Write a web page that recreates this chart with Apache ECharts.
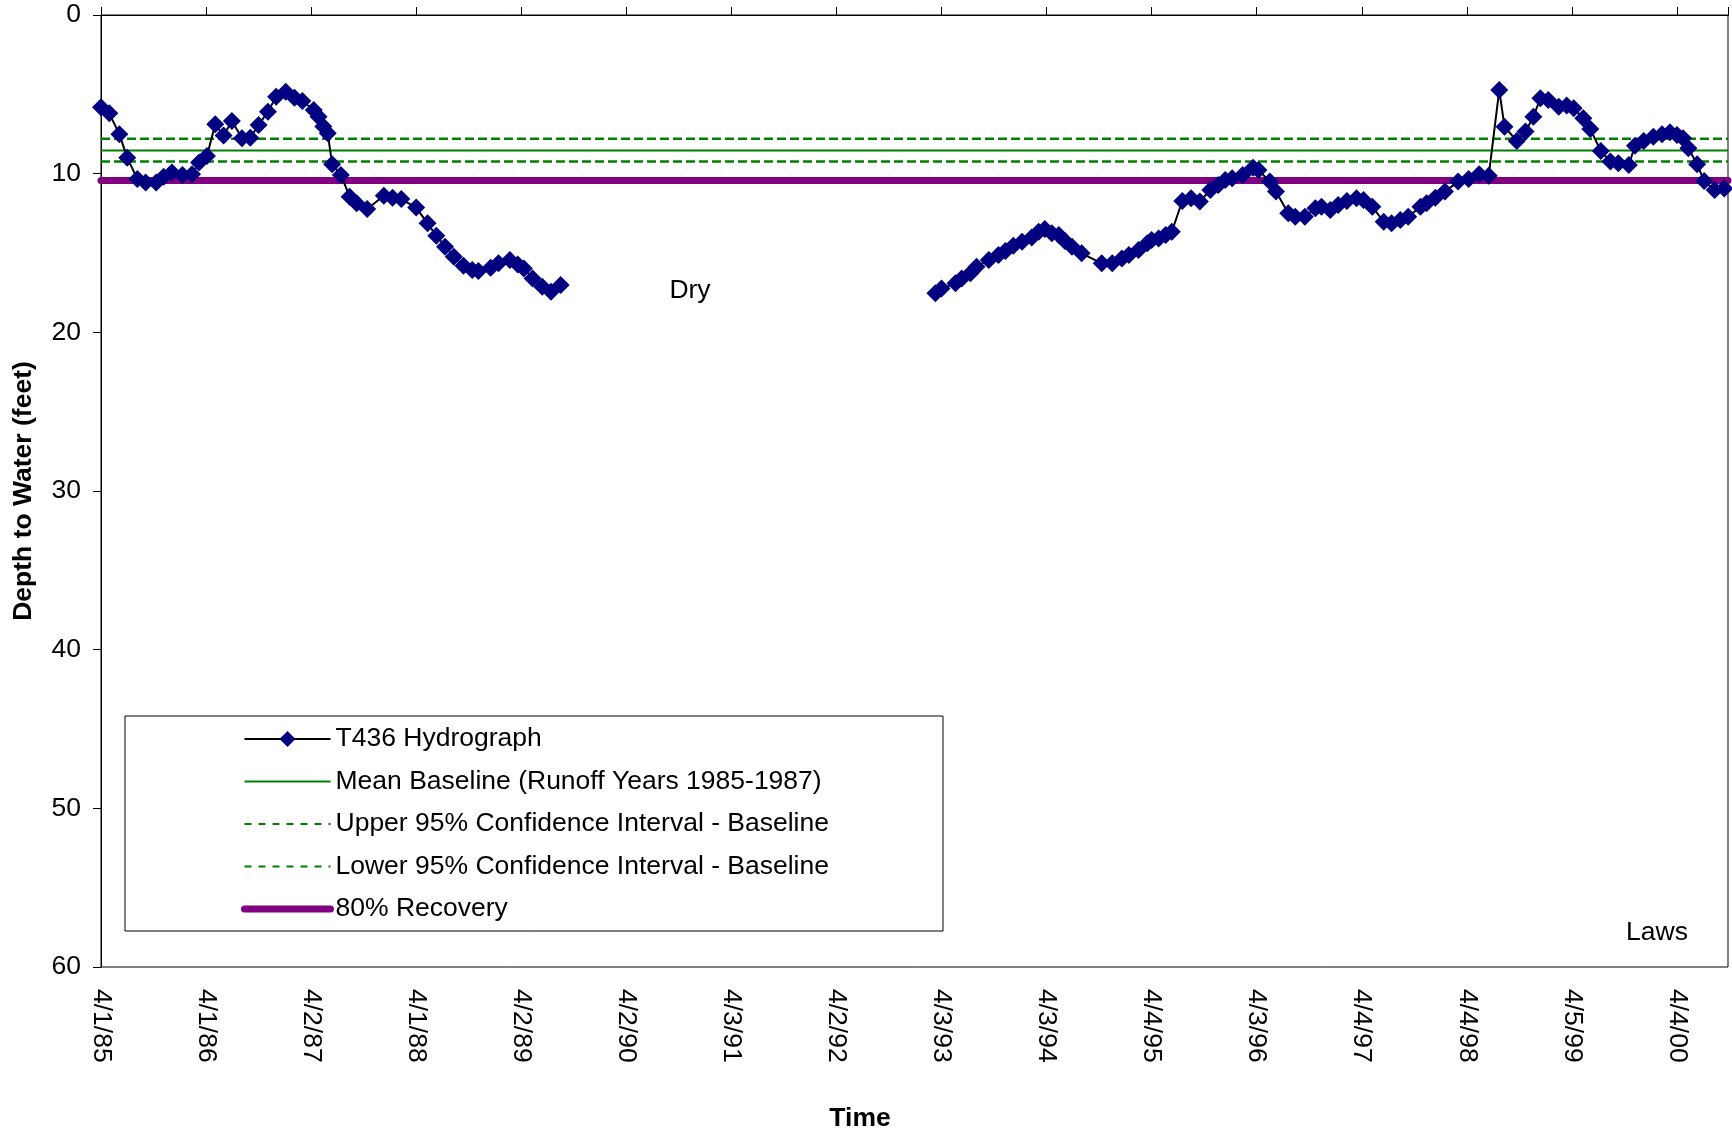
<!DOCTYPE html>
<html>
<head>
<meta charset="utf-8">
<title>T436 Hydrograph</title>
<script src="https://cdn.jsdelivr.net/npm/echarts@6/dist/echarts.min.js"></script>
<style>
html, body { margin: 0; padding: 0; background: #fff; }
#chart { width: 1732px; height: 1136px; }
</style>
</head>
<body>
<div id="chart"></div>
<script>
"use strict";

// sample times in months after 4/1/85 and depth to water in feet
// first run of readings, 1985 - 1989
var monthsA = [0, 0.95, 2.1, 3, 4.15, 5.1, 6.3, 7.15, 8.1, 9.3,
	10.4, 11.2, 12.1, 13.05, 14, 14.95, 16.1, 17.05, 18, 19.07,
	20, 21.1, 22.1, 23, 24.3, 24.85, 25.4, 25.9, 26.4, 27.4,
	28.4, 29.2, 30.4, 32.3, 33.3, 34.3, 36, 37.3, 38.3, 39.3,
	40.3, 41.4, 42.4, 43.1, 44.5, 45.4, 46.7, 47.6, 48.3, 49.3,
	50.4, 51.4, 52.5];
var depthA = [5.82, 6.2, 7.52, 8.99, 10.34, 10.55, 10.55, 10.19, 9.92, 10.08,
	10.04, 9.29, 8.89, 6.89, 7.6, 6.68, 7.77, 7.73, 6.93, 6.09,
	5.15, 4.83, 5.21, 5.42, 5.99, 6.41, 7.03, 7.46, 9.41, 10.08,
	11.45, 11.87, 12.23, 11.39, 11.51, 11.6, 12.14, 13.13, 13.91, 14.6,
	15.23, 15.8, 16.07, 16.13, 15.93, 15.65, 15.44, 15.72, 15.97, 16.6,
	17.12, 17.44, 17.02];

// second run of readings, 1993 - 2000 (well was dry in between)
var monthsB = [95.3, 96, 97.6, 98.3, 99.3, 100, 101.4, 102.5, 103.3, 104.2,
	105.2, 106.3, 107.1, 107.8, 108.6, 109.4, 110.1, 110.9, 112, 114.3,
	115.5, 116.6, 117.4, 118.5, 119.5, 120, 120.8, 121.6, 122.3, 123.5,
	124.5, 125.5, 126.7, 127.6, 128.4, 129.2, 130.4, 131.6, 132.2, 133.5,
	134.2, 135.6, 136.4, 137.5, 138.7, 139.4, 140.4, 141.3, 142.3, 143.4,
	144.2, 145.2, 146.5, 147.4, 148.4, 149.3, 150.7, 151.4, 152.4, 153.5,
	155, 156.2, 157.4, 158.5, 159.7, 160.3, 161.7, 162.7, 163.6, 164.4,
	165.3, 166.5, 167.4, 168.2, 169.3, 170.1, 171.3, 172.4, 173.3, 174.5,
	175.2, 176.2, 177.3, 178.3, 179.2, 180, 180.7, 181.3, 182.3, 183.1,
	184.3, 185.4];
var depthB = [17.54, 17.23, 16.91, 16.6, 16.28, 15.86, 15.44, 15.13, 14.87, 14.54,
	14.29, 14.03, 13.66, 13.49, 13.76, 13.87, 14.24, 14.6, 15.02, 15.65,
	15.65, 15.34, 15.13, 14.81, 14.39, 14.18, 14.08, 13.87, 13.66, 11.72,
	11.55, 11.76, 11.03, 10.71, 10.4, 10.29, 10.08, 9.62, 9.77, 10.5,
	11.13, 12.5, 12.71, 12.71, 12.18, 12.08, 12.29, 11.97, 11.72, 11.55,
	11.66, 12.08, 13.03, 13.13, 12.92, 12.71, 12.08, 11.87, 11.51, 11.13,
	10.5, 10.34, 10.04, 10.13, 4.73, 7.04, 7.94, 7.35, 6.41, 5.25,
	5.36, 5.78, 5.71, 5.88, 6.51, 7.19, 8.57, 9.24, 9.35, 9.45,
	8.24, 7.94, 7.67, 7.52, 7.39, 7.56, 7.77, 8.4, 9.41, 10.46,
	11.03, 10.93];

// baseline levels (feet)
var meanBaseline = 8.54;
var upperCI = 7.80;
var lowerCI = 9.23;
var recovery80 = 10.43;

// x axis: days after 4/1/85, one tick every 365.5 days
var tickDays = 365.5;
var xMaxDays = 5660;
var daysPerMonth = 365.5 / 12;

var seriesNames = ['T436 Hydrograph', 'Mean Baseline (Runoff Years 1985-1987)',
	'Upper 95% Confidence Interval - Baseline', 'Lower 95% Confidence Interval - Baseline',
	'80% Recovery'];

var FONT = '"Liberation Sans", Arial, sans-serif';
var FS = 26.5;

function toPoints(months, depth) {
	var out = [];
	for (var i = 0; i < months.length; i++) {
		out.push([months[i] * daysPerMonth, depth[i]]);
	}
	return out;
}

function levelLine(v) {
	return [[0, v], [xMaxDays, v]];
}

function dateLabel(v) {
	var d = new Date(Date.UTC(1985, 3, 1) + v * 86400000);
	var yy = String(d.getUTCFullYear() % 100);
	if (yy.length < 2) yy = '0' + yy;
	return (d.getUTCMonth() + 1) + '/' + d.getUTCDate() + '/' + yy;
}

var myChart = echarts.init(document.getElementById('chart'));

var hydroStyle = {
	type: 'line',
	name: seriesNames[0],
	symbol: 'diamond',
	symbolSize: 18,
	itemStyle: { color: '#000080' },
	lineStyle: { color: '#000', width: 2 },
	z: 5
};

var noSymbol = { opacity: 0 };

var option = {
	backgroundColor: '#fff',
	animation: false,
	grid: {
		left: 101, top: 15, right: 4, bottom: 169,
		show: true, borderColor: '#000', borderWidth: 1, backgroundColor: '#fff'
	},
	legend: {
		orient: 'vertical',
		left: 125, top: 716,
		padding: [9, 114, 8, 116],
		itemWidth: 86, itemHeight: 20, itemGap: 14.5,
		borderColor: '#000', borderWidth: 1, backgroundColor: '#fff',
		selectedMode: false,
		textStyle: { fontSize: FS, fontFamily: FONT, color: '#000', lineHeight: 28 },
		data: [
			{ name: seriesNames[0] },
			{ name: seriesNames[1], itemStyle: noSymbol },
			{ name: seriesNames[2], itemStyle: noSymbol, lineStyle: { type: [7, 7] } },
			{ name: seriesNames[3], itemStyle: noSymbol, lineStyle: { type: [7, 7] } },
			{ name: seriesNames[4], itemStyle: noSymbol, lineStyle: { width: 7, cap: 'round' } }
		]
	},
	xAxis: [{
		type: 'value',
		position: 'bottom',
		min: 0, max: xMaxDays, interval: tickDays,
		axisLine: { show: true, lineStyle: { color: '#000', width: 1 } },
		axisTick: { show: false },
		splitLine: { show: false },
		axisLabel: {
			rotate: -90, margin: 22, fontSize: FS, fontFamily: FONT, color: '#000',
			showMaxLabel: false,
			formatter: dateLabel
		}
	}, {
		type: 'value',
		position: 'top',
		min: 0, max: xMaxDays, interval: tickDays,
		axisLine: { show: true, lineStyle: { color: '#000', width: 1 } },
		axisTick: { show: true, length: 8, lineStyle: { color: '#000' } },
		axisLabel: { show: false },
		splitLine: { show: false }
	}],
	yAxis: {
		type: 'value',
		inverse: true,
		min: 0, max: 60, interval: 10,
		name: 'Depth to Water (feet)',
		nameLocation: 'middle',
		nameGap: 64,
		nameTextStyle: { fontSize: FS, fontWeight: 'bold', fontFamily: FONT, color: '#000' },
		axisLine: { show: true, lineStyle: { color: '#000', width: 1 } },
		axisTick: { show: true, length: 8, lineStyle: { color: '#000' } },
		splitLine: { show: false },
		axisLabel: { margin: 20, fontSize: FS, fontFamily: FONT, color: '#000' }
	},
	graphic: [{
		type: 'text', x: 860, y: 1119,
		style: { text: 'Time', font: 'bold ' + FS + 'px ' + FONT, fill: '#000',
			align: 'center', verticalAlign: 'middle', textAlign: 'center', textVerticalAlign: 'middle' }
	}, {
		type: 'text', x: 690, y: 291,
		style: { text: 'Dry', font: FS + 'px ' + FONT, fill: '#000',
			align: 'center', verticalAlign: 'middle', textAlign: 'center', textVerticalAlign: 'middle' }
	}, {
		type: 'text', x: 1657, y: 933,
		style: { text: 'Laws', font: FS + 'px ' + FONT, fill: '#000',
			align: 'center', verticalAlign: 'middle', textAlign: 'center', textVerticalAlign: 'middle' }
	}],
	series: [{
		name: seriesNames[1],
		type: 'line',
		symbol: 'none',
		data: levelLine(meanBaseline),
		itemStyle: noSymbol,
		lineStyle: { color: '#008000', width: 2 },
		z: 2
	}, {
		name: seriesNames[2],
		type: 'line',
		symbol: 'none',
		data: levelLine(upperCI),
		itemStyle: noSymbol,
		lineStyle: { color: '#008000', width: 2.5, type: [9, 4] },
		z: 2
	}, {
		name: seriesNames[3],
		type: 'line',
		symbol: 'none',
		data: levelLine(lowerCI),
		itemStyle: noSymbol,
		lineStyle: { color: '#008000', width: 2.5, type: [9, 4] },
		z: 2
	}, {
		name: seriesNames[4],
		type: 'line',
		symbol: 'none',
		clip: false,
		data: levelLine(recovery80),
		itemStyle: noSymbol,
		lineStyle: { color: '#800080', width: 7, cap: 'round' },
		z: 3
	},
	echarts.util.extend({ data: toPoints(monthsA, depthA) }, hydroStyle),
	echarts.util.extend({ data: toPoints(monthsB, depthB) }, hydroStyle)
	]
};

myChart.setOption(option);
</script>
</body>
</html>
